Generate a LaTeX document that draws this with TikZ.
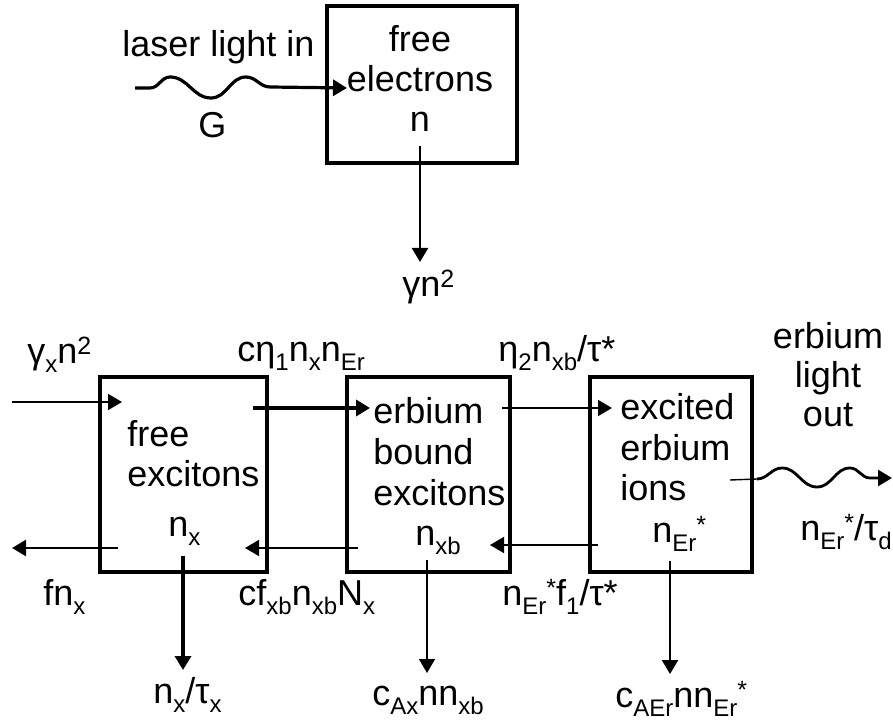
\documentclass[tikz,border=0pt]{standalone}
\usepackage{fontspec}
\setmainfont{Liberation Sans}
\usetikzlibrary{arrows.meta, positioning, calc}
% small lowered / raised indices
\newcommand{\sbs}[1]{\raisebox{-4.5pt}{\fontsize{12}{12}\selectfont #1}}
\newcommand{\sps}[1]{\raisebox{4.5pt}{\fontsize{12.5}{12.5}\selectfont #1}}

\begin{document}
\begin{tikzpicture}[x=0.5pt, y=-0.5pt, font=\fontsize{18}{20}\selectfont,
	box/.style={draw, line width=2pt, inner sep=0pt},
	lbl/.style={inner sep=0pt, anchor=base west},
	mid/.style={inner sep=0pt, anchor=base},
	tip/.style={-{Triangle[length=7pt, width=8pt]}},
	thinflow/.style={tip, line width=0.8pt},
	flow/.style={tip, line width=1.2pt},
	thickflow/.style={tip, line width=1.8pt},
	wave/.style={tip, line width=1.6pt}]
	\useasboundingbox (0,0) rectangle (893,726);
	% Boxes
	\node[box, minimum width=95pt, minimum height=78.5pt] (fe) at (422,84.5) {};
	\node[box, minimum width=83.5pt, minimum height=97pt] (fx) at (183.5,474.5) {};
	\node[box, minimum width=81.5pt, minimum height=97pt] (bx) at (428.5,474.5) {};
	\node[box, minimum width=81pt, minimum height=97pt] (er) at (671,474.5) {};
	% Box texts
	\node[mid] (fe1) at (420,52) {free};
	\node[mid] (fe2) at (420,92) {electrons};
	\node[mid] (fe3) at (420,132) {n};
	\node[lbl] (fx1) at (127,447) {free};
	\node[lbl] (fx2) at (127,487) {excitons};
	\node[lbl] (fx3) at (168,536) {n\sbs{x}};
	\node[lbl] (bx1) at (373,424) {erbium};
	\node[lbl] (bx2) at (373,465) {bound};
	\node[lbl] (bx3) at (373,505) {excitons};
	\node[lbl] (bx4) at (415,545) {n\sbs{xb}};
	\node[lbl] (er1) at (620,420) {excited};
	\node[lbl] (er2) at (620,460) {erbium};
	\node[lbl] (er3) at (620,500) {ions};
	\node[lbl] (er4) at (652,542) {n\sbs{Er}\sps{*}};
	% Rate labels
	\node[lbl] (las) at (122,57) {laser light in};
	\node[lbl] (G) at (198,138) {G};
	\node[lbl] (gn) at (402,297) {γn\sps{2}};
	\node[lbl] (gxn) at (27,364) {γ\sbs{x}n\sps{2}};
	\node[lbl] (cap) at (237,362) {cη\sbs{1}n\sbs{x}n\sbs{Er}};
	\node[lbl] (eta) at (498,362) {η\sbs{2}n\sbs{xb}/τ*};
	\node[mid] (out1) at (828,349) {erbium};
	\node[mid] (out2) at (828,388) {light};
	\node[mid] (out3) at (828,427) {out};
	\node[lbl] (rad) at (800,540) {n\sbs{Er}\sps{*}/τ\sbs{d}};
	\node[lbl] (fnx) at (43,605) {fn\sbs{x}};
	\node[lbl] (cfx) at (238,605) {cf\sbs{xb}n\sbs{xb}N\sbs{x}};
	\node[lbl] (bck) at (502,605) {n\sbs{Er}\sps{*}f\sbs{1}/τ*};
	\node[lbl] (tx) at (153,703) {n\sbs{x}/τ\sbs{x}};
	\node[lbl] (cax) at (372,705) {c\sbs{Ax}nn\sbs{xb}};
	\node[lbl] (caer) at (615,707) {c\sbs{AEr}nn\sbs{Er}\sps{*}};
	% Connector ends
	\coordinate (lsr) at (135,88);
	\coordinate (fe-in) at (347,88);
	\coordinate (fe-dn) at (420,146);
	\coordinate (fe-end) at (420,262);
	\coordinate (gx-src) at (12,402);
	\coordinate (fx-in) at (122,402);
	\coordinate (fx-out) at (253,408);
	\coordinate (bx-in) at (370,408);
	\coordinate (bx-out) at (502,408);
	\coordinate (er-in) at (612,408);
	\coordinate (er-out) at (730,480);
	\coordinate (ws) at (757,479);
	\coordinate (lo) at (892,478);
	\coordinate (fx-lf) at (118,548);
	\coordinate (fx-end) at (12,548);
	\coordinate (bx-lf) at (358,548);
	\coordinate (fx-back) at (245,548);
	\coordinate (er-lf) at (598,545);
	\coordinate (bx-back) at (490,545);
	\coordinate (fx-dn) at (183,556);
	\coordinate (fx-low) at (183,670);
	\coordinate (bx-dn) at (427,560);
	\coordinate (bx-low) at (427,673);
	\coordinate (er-dn) at (670,561);
	\coordinate (er-low) at (670,674);
	% Connectors
	\draw[wave] (lsr) -- ++(15,0) to[out=0,in=180] ++(20,-11) to[out=0,in=180] ++(41,21)
		to[out=0,in=180] ++(35,-21) to[out=0,in=180] ++(24,10) -- (fe-in);
	\draw[flow] (fe-dn) -- (fe-end);
	\draw[thinflow] (gx-src) -- (fx-in);
	\draw[thickflow] (fx-out) -- (bx-in);
	\draw[thinflow] (bx-out) -- (er-in);
	\draw[line width=0.7pt] (er-out) -- (ws);
	\draw[wave, line width=1.4pt] (ws) to[out=0,in=180] ++(25,-11) to[out=0,in=180] ++(35,19)
		to[out=0,in=180] ++(33,-19) to[out=0,in=180] ++(20,10) -- (lo);
	\draw[flow] (fx-lf) -- (fx-end);
	\draw[thinflow] (bx-lf) -- (fx-back);
	\draw[thinflow] (er-lf) -- (bx-back);
	\draw[thickflow] (fx-dn) -- (fx-low);
	\draw[thinflow] (bx-dn) -- (bx-low);
	\draw[flow] (er-dn) -- (er-low);
\end{tikzpicture}
\end{document}
